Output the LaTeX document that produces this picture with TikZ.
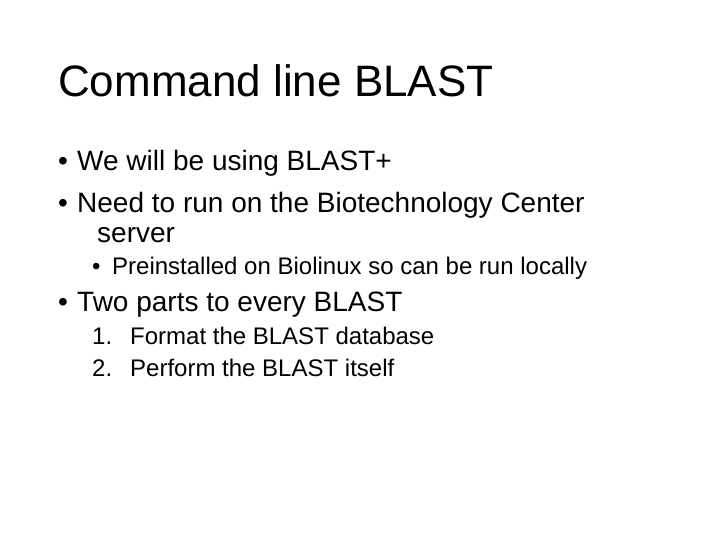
\documentclass[tikz,border=0pt]{standalone}
\usepackage{fontspec}
\setmainfont{Liberation Sans}
\begin{document}
\begin{tikzpicture}[x=1pt,y=-1pt,
  t/.style={anchor=base west,inner sep=0pt},
  tt/.style={t,font=\fontsize{44}{52}\selectfont},
  b/.style={t,font=\fontsize{28}{33}\selectfont},
  s/.style={t,font=\fontsize{24}{29}\selectfont}]
\useasboundingbox[fill=white] (0,0) rectangle (720,540);
\node[tt] (title) at (58,97) {Command line BLAST};
\node[b] (d1) at (58,171) {•}; \node[b] (l1) at (77,171) {We will be using BLAST+};
\node[b] (d2) at (58,213) {•}; \node[b] (l2) at (77,213) {Need to run on the Biotechnology Center};
\node[b] (l2b) at (97,243) {server};
\node[s] (d3) at (92,274) {•}; \node[s] (l3) at (112,274) {Preinstalled on Biolinux so can be run locally};
\node[b] (d4) at (58,311) {•}; \node[b] (l4) at (77,311) {Two parts to every BLAST};
\node[s] (n1) at (92,344) {1.}; \node[s] (l5) at (130,344) {Format the BLAST database};
\node[s] (n2) at (92,376) {2.}; \node[s] (l6) at (130,376) {Perform the BLAST itself};
\end{tikzpicture}
\end{document}
